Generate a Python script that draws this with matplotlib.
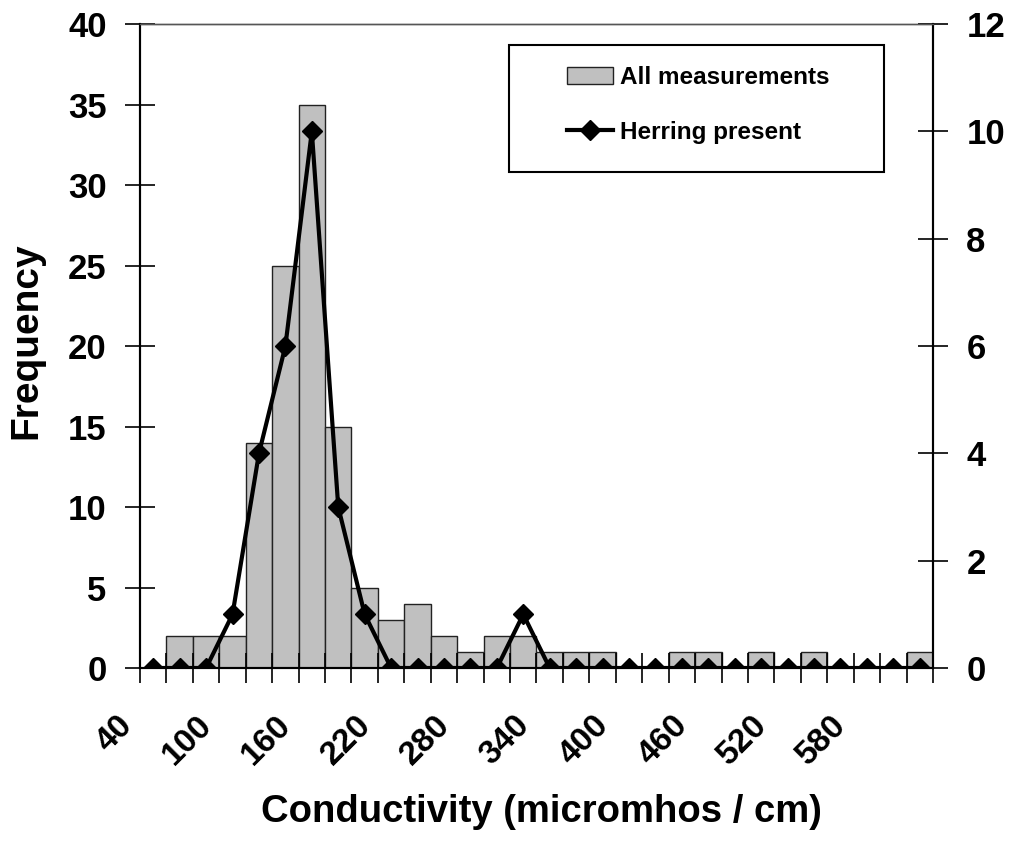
import matplotlib.pyplot as plt
from matplotlib.patches import Rectangle
from matplotlib.transforms import ScaledTranslation
from matplotlib.ticker import FixedLocator, NullFormatter

# conductivity classes (lower bound, micromhos/cm), 20 wide
conductivity = [40, 60, 80, 100, 120, 140, 160, 180, 200, 220,
                240, 260, 280, 300, 320, 340, 360, 380, 400, 420,
                440, 460, 480, 500, 520, 540, 560, 580, 600, 620]
# frequency of all measurements per class
all_meas = [0, 2, 2, 2, 14, 25, 35, 15, 5, 3,
            4, 2, 1, 2, 2, 1, 1, 1, 0, 0,
            1, 1, 0, 1, 0, 1, 0, 0, 0, 1]
# frequency of samples with herring present
herring = [0, 0, 0, 1, 4, 6, 10, 3, 1, 0,
           0, 0, 0, 0, 1, 0, 0, 0, 0, 0,
           0, 0, 0, 0, 0, 0, 0, 0, 0, 0]

plt.rcParams['font.family'] = ['Liberation Sans', 'DejaVu Sans']
plt.rcParams['font.weight'] = 'bold'

W, H = 1011, 846
fig = plt.figure(figsize=(W / 100, H / 100), dpi=100)
ax = fig.add_axes([0.1385, 0.2104, 0.7843, 0.7612])
ax2 = ax.twinx()

x = list(range(len(conductivity)))
bars = ax.bar(x, all_meas, width=1.0, color='#c0c0c0', edgecolor='#222222',
              linewidth=1.0, label='All measurements')
line, = ax2.plot(x, herring, color='black', lw=3, marker='D', markersize=10,
                 label='Herring present')

ax.set_xlim(-0.5, len(x) - 0.5)
ax.set_ylim(0, 40)
ax2.set_ylim(0, 12)
ax.set_yticks(range(0, 41, 5))
ax2.set_yticks(range(0, 13, 2))

# tick marks at class boundaries, labels every third class
ax.xaxis.set_major_locator(FixedLocator([i - 0.5 for i in range(len(x) + 1)]))
ax.xaxis.set_major_formatter(NullFormatter())
lab_pos = x[::3]
ax.xaxis.set_minor_locator(FixedLocator(lab_pos))
ax.set_xticklabels([str(conductivity[i]) for i in lab_pos], minor=True,
                   rotation=45, ha='right', rotation_mode='anchor',
                   fontsize=24, fontweight='bold')
ax.tick_params(axis='x', which='minor', length=0, pad=30)
ax.tick_params(axis='x', which='major', direction='inout', length=22, width=1.2)
shift = ScaledTranslation(-36 / 100, 0, fig.dpi_scale_trans)
for lab in ax.get_xticklabels(minor=True):
    lab.set_transform(lab.get_transform() + shift)

ax.tick_params(axis='y', direction='inout', length=22, width=1.2,
               labelsize=25, pad=13)
ax2.tick_params(axis='y', direction='inout', length=22, width=1.2,
                labelsize=25, pad=13)
for lab in ax.get_yticklabels() + ax2.get_yticklabels():
    lab.set_fontweight('bold')

for a in (ax, ax2):
    a.spines['left'].set_linewidth(1.5)
    a.spines['right'].set_linewidth(1.5)
    a.spines['bottom'].set_linewidth(1.5)
    a.spines['top'].set_linewidth(1.0)
    a.spines['top'].set_color('#555555')

ax.set_ylabel('Frequency', fontsize=28, fontweight='bold')
ax.yaxis.set_label_coords(-0.12, 0.509)
ax.set_xlabel('Conductivity (micromhos / cm)', fontsize=27.5, fontweight='bold')
ax.xaxis.set_label_coords(0.506, -0.195)

# legend frame drawn separately, entries placed inside it
fig.add_artist(Rectangle((509 / W, 1 - 172 / H), 375 / W, 127 / H,
                         transform=fig.transFigure, fill=True, facecolor='white',
                         edgecolor='black', linewidth=1.5, zorder=5))
leg = fig.legend(handles=[bars, line], loc='upper left',
                 bbox_to_anchor=(567 / W, 1 - 66 / H), frameon=False,
                 fontsize=17.5, borderpad=0, labelspacing=1.3,
                 handlelength=1.9, handletextpad=0.3, borderaxespad=0)
leg.set_zorder(6)
for t in leg.get_texts():
    t.set_fontweight('bold')

fig.savefig('out.png', dpi=100)
